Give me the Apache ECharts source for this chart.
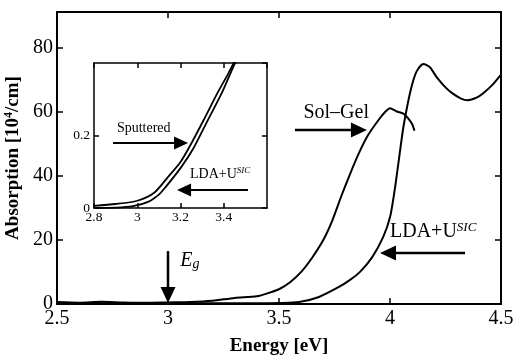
<!DOCTYPE html>
<html>
<head>
<meta charset="utf-8">
<script src="https://cdn.jsdelivr.net/npm/echarts@6/dist/echarts.min.js"></script>
<style>
html, body { margin: 0; padding: 0; background: #fff; }
#chart { width: 514px; height: 356px; }
</style>
</head>
<body>
<div id="chart"></div>
<script>
// main panel: absorption [10^4/cm] vs energy [eV]
var solGelE = [2.5, 2.6, 2.7, 2.8, 2.9, 3.0, 3.1, 3.2, 3.3, 3.4, 3.46, 3.5, 3.55, 3.6, 3.65, 3.7, 3.74, 3.78, 3.82, 3.86, 3.9, 3.95, 3.98, 4.0, 4.03, 4.06, 4.08, 4.1, 4.11];
var solGelA = [0.6, 0.4, 0.7, 0.5, 0.4, 0.5, 0.6, 1.0, 1.9, 2.4, 3.6, 4.6, 6.8, 10, 14.5, 20, 26, 33.5, 40.5, 47, 52.5, 57.5, 60, 61, 60, 59.3, 58, 56, 54];
var ldaE = [2.5, 2.8, 3.0, 3.2, 3.4, 3.5, 3.59, 3.68, 3.77, 3.82, 3.865, 3.92, 3.97, 4.0, 4.02, 4.04, 4.06, 4.08, 4.1, 4.12, 4.15, 4.18, 4.21, 4.25, 4.28, 4.32, 4.35, 4.39, 4.42, 4.46, 4.5];
var ldaA = [0.3, 0.2, 0.2, 0.2, 0.2, 0.3, 0.6, 2.2, 5.3, 7.5, 10, 14.6, 21, 27, 35, 45, 55, 62.5, 68.5, 72.5, 74.8, 73.8, 70.7, 67.5, 65.7, 64, 63.5, 64.3, 65.7, 68.2, 71.5];

// inset panel
var sputE = [2.8, 2.9, 3.0, 3.08, 3.14, 3.2, 3.25, 3.31, 3.37, 3.42, 3.45];
var sputA = [0.006, 0.011, 0.02, 0.043, 0.084, 0.127, 0.178, 0.246, 0.316, 0.37, 0.405];
var ldaInE = [2.8, 2.9, 2.98, 3.05, 3.1, 3.13, 3.2, 3.26, 3.32, 3.39, 3.44, 3.46];
var ldaInA = [0.0, 0.001, 0.005, 0.017, 0.037, 0.057, 0.11, 0.165, 0.235, 0.316, 0.384, 0.41];

// axis ranges [min, max, interval]
var mainX = [2.5, 4.5, 0.5];
var mainY = [0, 91, 20];
var insetX = [2.8, 3.6, 0.2];
var insetY = [0, 0.4, 0.2];

// arrows: [panel, x1, y1, x2, y2] head at (x2, y2)
var arrows = [
  [0, 3.572, 54.2, 3.896, 54.2],
  [0, 4.338, 15.9, 3.955, 15.9],
  [0, 3.0, 16.5, 3.0, 0.3],
  [1, 2.888, 0.179, 3.235, 0.179],
  [1, 3.512, 0.05, 3.184, 0.05]
];
// labels: [panel, x, y, rich text]
var labels = [
  [0, 3.61, 59.5, '{b|Sol\u2013Gel}'],
  [0, 4.0, 22.5, '{b|LDA+U}{s|SIC}'],
  [0, 3.055, 13.5, '{e|E}{g|g}'],
  [1, 2.906, 0.221, '{bs|Sputtered}'],
  [1, 3.244, 0.094, '{bs|LDA+U}{ss|SIC}']
];

function pairs(xs, ys) {
  return xs.map(function (x, i) { return [x, ys[i]]; });
}

var serif = 'Liberation Serif';

function xAx(grid, r, pos, show, size, margin) {
  return {
    type: 'value', gridIndex: grid, position: pos, min: r[0], max: r[1], interval: r[2],
    axisLine: { onZero: false, lineStyle: { color: '#000', width: grid === 0 ? 2 : 1.5 } },
    axisTick: { inside: true, length: grid === 0 ? 6 : 5, lineStyle: { color: '#000', width: 1.5 } },
    axisLabel: { show: show, color: '#000', fontFamily: serif, fontSize: size, margin: margin, showMaxLabel: grid === 0 },
    splitLine: { show: false }
  };
}
function yAx(grid, r, pos, show, size, margin) {
  return {
    type: 'value', gridIndex: grid, position: pos, min: r[0], max: r[1], interval: r[2],
    axisLine: { onZero: false, lineStyle: { color: '#000', width: grid === 0 ? 2 : 1.5 } },
    axisTick: { inside: true, length: grid === 0 ? 6 : 5, lineStyle: { color: '#000', width: 1.5 } },
    axisLabel: { show: show, color: '#000', fontFamily: serif, fontSize: size, margin: margin, showMaxLabel: false },
    splitLine: { show: false }
  };
}

var xAxes = [
  xAx(0, mainX, 'bottom', true, 20, 5),
  xAx(0, mainX, 'top', false, 20, 5),
  xAx(1, insetX, 'bottom', true, 13.5, 2),
  xAx(1, insetX, 'top', false, 13.5, 2)
];
xAxes[0].name = 'Energy [eV]';
xAxes[0].nameLocation = 'middle';
xAxes[0].nameGap = 33;
xAxes[0].nameTextStyle = { color: '#000', fontFamily: serif, fontSize: 19, fontWeight: 'bold' };

var yAxes = [
  yAx(0, mainY, 'left', true, 20, 4),
  yAx(0, mainY, 'right', false, 20, 4),
  yAx(1, insetY, 'left', true, 13.5, 4),
  yAx(1, insetY, 'right', false, 13.5, 4)
];
yAxes[0].name = '{n|Absorption [10}{s|4}{n|/cm]}';
yAxes[0].nameLocation = 'middle';
yAxes[0].nameGap = 31;
yAxes[0].nameTextStyle = {
  rich: {
    n: { color: '#000', fontFamily: serif, fontSize: 19, fontWeight: 'bold', lineHeight: 20 },
    s: { color: '#000', fontFamily: serif, fontSize: 12, fontWeight: 'bold', verticalAlign: 'top', lineHeight: 12 }
  }
};

function line(xi, xs, ys, w) {
  return {
    type: 'line', xAxisIndex: xi, yAxisIndex: xi, data: pairs(xs, ys),
    smooth: 0.25, showSymbol: false, clip: true,
    lineStyle: { color: '#000', width: w }
  };
}

var chart = echarts.init(document.getElementById('chart'));
chart.setOption({
  animation: false,
  backgroundColor: '#fff',
  grid: [
    { left: 57, top: 12, width: 444, height: 292, containLabel: false, outerBoundsMode: 'none' },
    { left: 94, top: 63, width: 173, height: 145, containLabel: false, outerBoundsMode: 'none' }
  ],
  xAxis: xAxes,
  yAxis: yAxes,
  series: [
    line(0, solGelE, solGelA, 2),
    line(0, ldaE, ldaA, 2),
    line(2, sputE, sputA, 1.8),
    line(2, ldaInE, ldaInA, 1.8)
  ]
});

// annotations placed through the axes
function px(panel, x, y) {
  var i = panel === 0 ? 0 : 2;
  return chart.convertToPixel({ xAxisIndex: i, yAxisIndex: i }, [x, y]);
}
var rich = {
  b: { fontFamily: serif, fontSize: 20, fill: '#000', lineHeight: 22 },
  s: { fontFamily: serif, fontSize: 13, fontStyle: 'italic', fill: '#000', verticalAlign: 'top', lineHeight: 12 },
  e: { fontFamily: serif, fontSize: 20, fontStyle: 'italic', fill: '#000', lineHeight: 22 },
  g: { fontFamily: serif, fontSize: 14, fontStyle: 'italic', fill: '#000', verticalAlign: 'bottom', lineHeight: 8 },
  bs: { fontFamily: serif, fontSize: 14, fill: '#000', lineHeight: 15 },
  ss: { fontFamily: serif, fontSize: 9, fontStyle: 'italic', fill: '#000', verticalAlign: 'top', lineHeight: 8 }
};
var elements = [];
arrows.forEach(function (a) {
  var p1 = px(a[0], a[1], a[2]);
  var p2 = px(a[0], a[3], a[4]);
  var hl = a[0] === 0 ? 16 : 14, hw = a[0] === 0 ? 15 : 13;
  var dx = p2[0] - p1[0], dy = p2[1] - p1[1];
  var len = Math.sqrt(dx * dx + dy * dy);
  var ux = dx / len, uy = dy / len;
  var bx = p2[0] - ux * hl, by = p2[1] - uy * hl;
  elements.push({
    type: 'line', z: 100,
    shape: { x1: p1[0], y1: p1[1], x2: bx, y2: by },
    style: { stroke: '#000', lineWidth: a[0] === 0 ? 2.5 : 2 }
  });
  elements.push({
    type: 'polygon', z: 100,
    shape: { points: [p2, [bx - uy * hw / 2, by + ux * hw / 2], [bx + uy * hw / 2, by - ux * hw / 2]] },
    style: { fill: '#000' }
  });
});
labels.forEach(function (l) {
  var p = px(l[0], l[1], l[2]);
  elements.push({
    type: 'text', z: 100, x: p[0], y: p[1],
    style: { text: l[3], rich: rich, align: 'left', verticalAlign: 'middle', fill: '#000' }
  });
});
chart.setOption({ graphic: { elements: elements } });
</script>
</body>
</html>
